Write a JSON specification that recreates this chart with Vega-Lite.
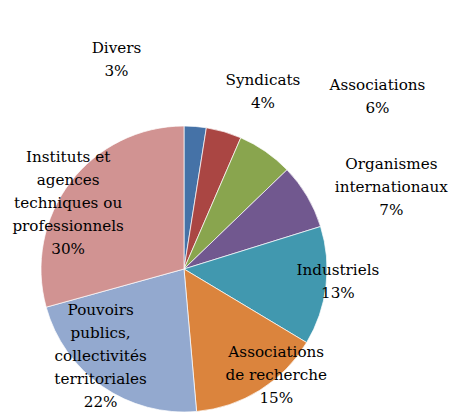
{
  "$schema": "https://vega.github.io/schema/vega-lite/v6.json",
  "width": 368,
  "height": 302,
  "autosize": "none",
  "padding": {"left": 0, "top": 118, "right": 90, "bottom": 0},
  "background": "white",
  "config": {"view": {"stroke": null}, "text": {"font": "DejaVu Serif, serif", "fontSize": 15.2, "lineHeight": 23, "color": "#000000"}},
  "data": {"values": [
    {"order": 1, "cat": "Divers", "value": 2.5, "label": "Divers\n3%"},
    {"order": 2, "cat": "Syndicats", "value": 4.0, "label": "Syndicats\n4%"},
    {"order": 3, "cat": "Associations", "value": 6.3, "label": "Associations\n6%"},
    {"order": 4, "cat": "Organismes internationaux", "value": 7.4, "label": "Organismes\ninternationaux\n7%"},
    {"order": 5, "cat": "Industriels", "value": 13.4, "label": "Industriels\n13%"},
    {"order": 6, "cat": "Associations de recherche", "value": 15.0, "label": "Associations\nde recherche\n15%"},
    {"order": 7, "cat": "Pouvoirs publics, collectivités territoriales", "value": 22.1, "label": "Pouvoirs\npublics,\ncollectivités\nterritoriales\n22%"},
    {"order": 8, "cat": "Instituts et agences techniques ou professionnels", "value": 29.3, "label": "Instituts et\nagences\ntechniques ou\nprofessionnels\n30%"}
  ]},
  "encoding": {
    "theta": {"field": "value", "type": "quantitative", "stack": true},
    "order": {"field": "order", "type": "quantitative", "sort": "ascending"}
  },
  "layer": [
    {
      "mark": {"type": "arc", "outerRadius": 143, "stroke": "#ffffff", "strokeWidth": 0.7},
      "encoding": {
        "color": {"field": "cat", "type": "nominal", "legend": null,
          "scale": {"domain": ["Divers", "Syndicats", "Associations", "Organismes internationaux", "Industriels", "Associations de recherche", "Pouvoirs publics, collectivités territoriales", "Instituts et agences techniques ou professionnels"],
                    "range": ["#4572A7", "#AA4643", "#89A54E", "#71588F", "#4198AF", "#DB843D", "#93A9CF", "#D19392"]}}
      }
    },
    {"mark": {"type": "text", "radius": 210, "dx": -84, "dy": -11.5, "align": "center", "baseline": "middle", "lineBreak": "\n"},
     "encoding": {"text": {"condition": {"test": "datum.order === 1", "field": "label", "type": "nominal"}, "value": ""}}},
    {"mark": {"type": "text", "radius": 190, "dx": 26, "dy": -6.5, "align": "center", "baseline": "middle", "lineBreak": "\n"},
     "encoding": {"text": {"condition": {"test": "datum.order === 2", "field": "label", "type": "nominal"}, "value": ""}}},
    {"mark": {"type": "text", "radius": 250, "dx": 51, "dy": 21.5, "align": "center", "baseline": "middle", "lineBreak": "\n"},
     "encoding": {"text": {"condition": {"test": "datum.order === 3", "field": "label", "type": "nominal"}, "value": ""}}},
    {"mark": {"type": "text", "radius": 220, "dx": 18, "dy": 7, "align": "center", "baseline": "middle", "lineBreak": "\n"},
     "encoding": {"text": {"condition": {"test": "datum.order === 4", "field": "label", "type": "nominal"}, "value": ""}}},
    {"mark": {"type": "text", "radius": 155, "dx": 0, "dy": -17.5, "align": "center", "baseline": "middle", "lineBreak": "\n"},
     "encoding": {"text": {"condition": {"test": "datum.order === 5", "field": "label", "type": "nominal"}, "value": ""}}},
    {"mark": {"type": "text", "radius": 140, "dx": 18, "dy": -36, "align": "center", "baseline": "middle", "lineBreak": "\n"},
     "encoding": {"text": {"condition": {"test": "datum.order === 6", "field": "label", "type": "nominal"}, "value": ""}}},
    {"mark": {"type": "text", "radius": 120, "dx": -15, "dy": -58, "align": "center", "baseline": "middle", "lineBreak": "\n"},
     "encoding": {"text": {"condition": {"test": "datum.order === 7", "field": "label", "type": "nominal"}, "value": ""}}},
    {"mark": {"type": "text", "radius": 133, "dx": -10, "dy": -31, "align": "center", "baseline": "middle", "lineBreak": "\n"},
     "encoding": {"text": {"condition": {"test": "datum.order === 8", "field": "label", "type": "nominal"}, "value": ""}}}
  ]
}
